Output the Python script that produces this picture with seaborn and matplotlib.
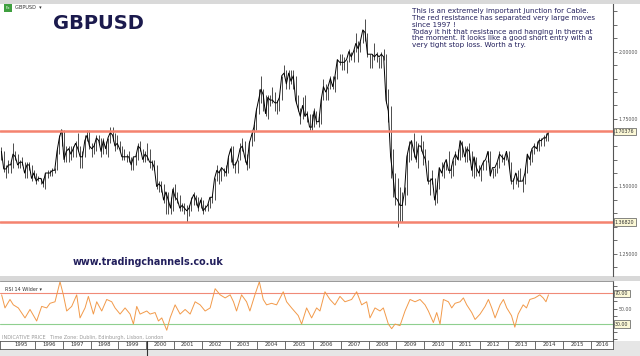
import numpy as np
import pandas as pd
import matplotlib
matplotlib.use("Agg")
import matplotlib.pyplot as plt
import seaborn as sns
from matplotlib.patches import Rectangle
from matplotlib.lines import Line2D
from matplotlib.ticker import FixedLocator, MultipleLocator, FuncFormatter

# ---------------- data (monthly, Oct 1994 .. Jun 2014) ----------------
start_year, start_month = 1994, 10
close = [
    1.63, 1.565, 1.565,
    1.58, 1.58, 1.62, 1.61, 1.58, 1.59, 1.59, 1.55, 1.58, 1.58, 1.53, 1.55,
    1.52, 1.53, 1.53, 1.51, 1.55, 1.55, 1.55, 1.56, 1.56, 1.63, 1.68, 1.71,
    1.60, 1.63, 1.64, 1.62, 1.64, 1.66, 1.64, 1.61, 1.61, 1.67, 1.69, 1.65,
    1.64, 1.65, 1.68, 1.67, 1.63, 1.67, 1.64, 1.68, 1.70, 1.69, 1.65, 1.66,
    1.64, 1.61, 1.61, 1.61, 1.61, 1.58, 1.61, 1.61, 1.65, 1.64, 1.60, 1.62,
    1.61, 1.59, 1.59, 1.57, 1.50, 1.51, 1.50, 1.45, 1.48, 1.45, 1.42, 1.49,
    1.46, 1.45, 1.42, 1.43, 1.42, 1.41, 1.42, 1.45, 1.47, 1.45, 1.42, 1.45,
    1.41, 1.42, 1.43, 1.46, 1.46, 1.53, 1.56, 1.55, 1.57, 1.56, 1.55, 1.61,
    1.64, 1.58, 1.58, 1.60, 1.64, 1.65, 1.61, 1.58, 1.66, 1.69, 1.72, 1.78,
    1.82, 1.86, 1.84, 1.77, 1.83, 1.82, 1.82, 1.81, 1.81, 1.83, 1.91, 1.92,
    1.88, 1.92, 1.89, 1.91, 1.82, 1.79, 1.76, 1.80, 1.76, 1.77, 1.72, 1.72,
    1.78, 1.74, 1.74, 1.82, 1.87, 1.85, 1.87, 1.90, 1.87, 1.91, 1.97, 1.96,
    1.96, 1.96, 1.97, 2.00, 1.98, 2.00, 2.03, 2.01, 2.04, 2.08, 2.07, 1.99,
    1.99, 1.99, 1.98, 1.99, 1.98, 1.99, 1.98, 1.82, 1.78, 1.61, 1.54, 1.46,
    1.45, 1.43, 1.43, 1.48, 1.61, 1.65, 1.67, 1.63, 1.60, 1.65, 1.65, 1.62,
    1.60, 1.52, 1.52, 1.53, 1.45, 1.49, 1.57, 1.55, 1.58, 1.60, 1.56, 1.56,
    1.60, 1.62, 1.60, 1.67, 1.65, 1.61, 1.64, 1.63, 1.56, 1.61, 1.57, 1.55,
    1.57, 1.59, 1.60, 1.63, 1.54, 1.57, 1.57, 1.59, 1.62, 1.61, 1.60, 1.63,
    1.59, 1.52, 1.52, 1.55, 1.52, 1.52, 1.52, 1.55, 1.62, 1.60, 1.64, 1.65,
    1.64, 1.67, 1.67, 1.68, 1.68, 1.70,
]
high = [
    1.645, 1.63, 1.58,
    1.60, 1.59, 1.66, 1.63, 1.62, 1.60, 1.61, 1.59, 1.59, 1.59, 1.58, 1.56,
    1.55, 1.54, 1.53, 1.53, 1.55, 1.56, 1.56, 1.57, 1.57, 1.64, 1.69, 1.71,
    1.71, 1.65, 1.65, 1.65, 1.65, 1.67, 1.70, 1.65, 1.63, 1.69, 1.71, 1.71,
    1.66, 1.66, 1.69, 1.69, 1.68, 1.68, 1.67, 1.68, 1.72, 1.72, 1.70, 1.69,
    1.67, 1.65, 1.64, 1.62, 1.63, 1.61, 1.61, 1.62, 1.66, 1.67, 1.64, 1.63,
    1.66, 1.64, 1.60, 1.60, 1.58, 1.52, 1.52, 1.51, 1.48, 1.48, 1.46, 1.50,
    1.51, 1.48, 1.47, 1.44, 1.44, 1.43, 1.43, 1.46, 1.48, 1.47, 1.46, 1.46,
    1.45, 1.43, 1.44, 1.46, 1.47, 1.53, 1.58, 1.56, 1.57, 1.57, 1.58, 1.61,
    1.65, 1.65, 1.59, 1.60, 1.66, 1.68, 1.67, 1.62, 1.67, 1.71, 1.73, 1.79,
    1.86, 1.91, 1.86, 1.84, 1.84, 1.84, 1.87, 1.85, 1.82, 1.84, 1.91, 1.95,
    1.93, 1.93, 1.93, 1.93, 1.91, 1.84, 1.79, 1.83, 1.84, 1.78, 1.77, 1.77,
    1.79, 1.78, 1.76, 1.83, 1.90, 1.88, 1.87, 1.91, 1.91, 1.91, 1.97, 1.99,
    1.99, 1.98, 1.97, 2.01, 2.00, 2.01, 2.07, 2.04, 2.04, 2.08, 2.12, 2.07,
    1.99, 1.99, 2.03, 2.00, 1.98, 2.00, 2.01, 1.99, 1.86, 1.80, 1.64, 1.55,
    1.53, 1.50, 1.48, 1.50, 1.62, 1.67, 1.67, 1.70, 1.67, 1.66, 1.69, 1.67,
    1.64, 1.60, 1.53, 1.56, 1.53, 1.51, 1.57, 1.59, 1.59, 1.60, 1.63, 1.58,
    1.60, 1.63, 1.64, 1.67, 1.67, 1.65, 1.65, 1.66, 1.63, 1.61, 1.61, 1.58,
    1.58, 1.60, 1.60, 1.63, 1.63, 1.57, 1.57, 1.59, 1.63, 1.62, 1.61, 1.63,
    1.63, 1.59, 1.53, 1.55, 1.56, 1.57, 1.53, 1.57, 1.62, 1.63, 1.64, 1.66,
    1.67, 1.68, 1.68, 1.69, 1.70, 1.705,
]
low = [
    1.60, 1.555, 1.53,
    1.55, 1.55, 1.57, 1.60, 1.57, 1.57, 1.58, 1.53, 1.53, 1.56, 1.52, 1.53,
    1.51, 1.52, 1.51, 1.50, 1.49, 1.53, 1.54, 1.54, 1.55, 1.56, 1.62, 1.65,
    1.59, 1.59, 1.59, 1.60, 1.61, 1.61, 1.63, 1.57, 1.57, 1.61, 1.67, 1.64,
    1.61, 1.62, 1.63, 1.66, 1.61, 1.62, 1.62, 1.61, 1.66, 1.67, 1.63, 1.64,
    1.63, 1.60, 1.60, 1.59, 1.59, 1.56, 1.56, 1.58, 1.60, 1.63, 1.59, 1.59,
    1.60, 1.57, 1.56, 1.56, 1.49, 1.48, 1.48, 1.44, 1.40, 1.40, 1.40, 1.41,
    1.45, 1.44, 1.41, 1.41, 1.40, 1.37, 1.39, 1.41, 1.43, 1.43, 1.41, 1.42,
    1.40, 1.41, 1.41, 1.42, 1.44, 1.45, 1.52, 1.51, 1.52, 1.54, 1.54, 1.55,
    1.59, 1.57, 1.55, 1.55, 1.60, 1.63, 1.59, 1.56, 1.57, 1.65, 1.67, 1.71,
    1.77, 1.81, 1.78, 1.76, 1.75, 1.80, 1.81, 1.78, 1.77, 1.78, 1.82, 1.91,
    1.86, 1.86, 1.88, 1.86, 1.81, 1.78, 1.73, 1.75, 1.76, 1.74, 1.71, 1.71,
    1.72, 1.73, 1.72, 1.73, 1.82, 1.82, 1.82, 1.86, 1.86, 1.85, 1.90, 1.95,
    1.93, 1.93, 1.92, 1.96, 1.97, 1.96, 2.00, 1.96, 2.00, 2.03, 2.04, 1.98,
    1.94, 1.94, 1.97, 1.96, 1.94, 1.94, 1.97, 1.81, 1.74, 1.53, 1.46, 1.43,
    1.35, 1.37, 1.37, 1.43, 1.47, 1.59, 1.60, 1.61, 1.59, 1.57, 1.63, 1.58,
    1.59, 1.51, 1.47, 1.51, 1.43, 1.44, 1.49, 1.54, 1.53, 1.56, 1.55, 1.53,
    1.54, 1.58, 1.60, 1.60, 1.61, 1.59, 1.59, 1.60, 1.54, 1.53, 1.54, 1.54,
    1.52, 1.56, 1.56, 1.59, 1.54, 1.53, 1.54, 1.55, 1.57, 1.59, 1.58, 1.60,
    1.57, 1.51, 1.49, 1.51, 1.50, 1.52, 1.48, 1.51, 1.55, 1.58, 1.59, 1.62,
    1.63, 1.63, 1.65, 1.65, 1.67, 1.67,
]

rsi_t = [
    1994.80, 1994.92, 1995.10, 1995.22, 1995.40, 1995.64, 1995.82, 1996.06, 1996.24, 1996.42,
    1996.54, 1996.72, 1996.90, 1997.02, 1997.14, 1997.32, 1997.50, 1997.62, 1997.80, 1997.92,
    1998.10, 1998.22, 1998.40, 1998.58, 1998.76, 1998.88, 1999.06, 1999.24, 1999.42, 1999.54,
    1999.66, 1999.78, 2000.02, 2000.14, 2000.32, 2000.44, 2000.56, 2000.74, 2000.86, 2001.04,
    2001.22, 2001.40, 2001.58, 2001.76, 2001.94, 2002.12, 2002.30, 2002.48, 2002.66, 2002.84,
    2003.02, 2003.14, 2003.25, 2003.43, 2003.61, 2003.73, 2003.91, 2004.07, 2004.21, 2004.33,
    2004.51, 2004.69, 2004.93, 2005.05, 2005.23, 2005.47, 2005.59, 2005.77, 2005.95, 2006.13,
    2006.25, 2006.43, 2006.61, 2006.79, 2006.97, 2007.15, 2007.39, 2007.57, 2007.75, 2007.93,
    2008.05, 2008.23, 2008.41, 2008.53, 2008.71, 2008.83, 2008.95, 2009.13, 2009.31, 2009.49,
    2009.67, 2009.85, 2010.03, 2010.15, 2010.33, 2010.45, 2010.57, 2010.69, 2010.87, 2010.99,
    2011.11, 2011.29, 2011.41, 2011.53, 2011.71, 2011.83, 2012.01, 2012.19, 2012.31, 2012.43,
    2012.55, 2012.73, 2012.85, 2012.97, 2013.14, 2013.26, 2013.38, 2013.56, 2013.68, 2013.80,
    2013.98, 2014.16, 2014.28, 2014.38, 2014.43, 2014.47,
]
rsi_v = [
    68, 51, 62, 55, 51, 38, 49, 34, 53, 51,
    57, 59, 85, 68, 47, 53, 68, 38, 51, 66,
    43, 59, 47, 62, 59, 51, 43, 51, 43, 30,
    53, 43, 47, 43, 45, 34, 38, 22, 38, 55,
    43, 49, 43, 59, 55, 47, 51, 76, 68, 64,
    68, 59, 47, 68, 59, 47, 68, 85, 62, 55,
    57, 55, 72, 59, 51, 41, 30, 51, 38, 51,
    47, 72, 62, 55, 66, 59, 62, 72, 55, 59,
    38, 51, 47, 51, 30, 24, 30, 28, 47, 62,
    59, 62, 55, 47, 32, 45, 30, 62, 59, 51,
    57, 59, 64, 55, 45, 36, 43, 53, 62, 51,
    38, 55, 62, 51, 41, 26, 43, 55, 51, 62,
    64, 68, 64, 59, 64, 68,
]

resistance = 1.70376
support = 1.36820
price_ticks = [1.25, 1.50, 1.75, 2.00]
rsi_levels = [30, 50, 70]
year_labels = list(range(1995, 2017))

note = ("This is an extremely important junction for Cable.\n"
        "The red resistance has separated very large moves\n"
        "since 1997 !\n"
        "Today it hit that resistance and hanging in there at\n"
        "the moment. It looks like a good short entry with a\n"
        "very tight stop loss. Worth a try.")

# ---------------- figure ----------------
sns.set_theme(style="white")
plt.rcParams["font.family"] = ["DejaVu Sans"]

W, H = 640, 356
fig = plt.figure(figsize=(6.4, 3.56), dpi=100, facecolor="#e6e6e6")


def fx(p):
    return p / W


def fy(p):
    return 1 - p / H


X0 = 1994.741
X1 = X0 + 613 / 27.8
NAVY = "#221f5c"
RED = "#f4836f"

# white right strip behind the price/RSI axis labels (drawn beneath the axes)
fig.patches.append(Rectangle((fx(613), fy(341)), 1 - fx(613), fy(4) - fy(341),
                             transform=fig.transFigure, fc="white", ec="none", zorder=-2))
# gray band between panels
fig.patches.append(Rectangle((0, fy(281)), 1, fy(276) - fy(281),
                             transform=fig.transFigure, fc="#d8d8d8", ec="none", zorder=-1))

n = len(close)
months = start_month - 1 + np.arange(n)
t = start_year + (months + 0.5) / 12.0
df = pd.DataFrame({"t": t, "close": close, "high": high, "low": low})
rsi_df = pd.DataFrame({"t": rsi_t, "rsi": rsi_v})

box = dict(boxstyle="square,pad=0.25", fc="#fbf8d6", ec="#555555", lw=0.5)
TICKFS = 3.4

# ---- price panel ----
ax = fig.add_axes([0, fy(276), fx(613), fy(4) - fy(276)])
ax.set_facecolor("white")
ax.vlines(df["t"], df["low"], df["high"], color="#303030", lw=0.6)
sns.lineplot(data=df, x="t", y="close", ax=ax, color="black", lw=0.7)
ax.axhline(resistance, color=RED, lw=1.8, zorder=3)
ax.axhline(support, color=RED, lw=1.8, zorder=3)
ax.set_xlim(X0, X1)
ax.set_ylim(1.75 - (276 - 119) / 270, 1.75 + (119 - 4) / 270)
ax.set_xlabel("")
ax.set_ylabel("")
ax.set_xticks([])
ax.yaxis.tick_right()
ax.yaxis.set_major_locator(FixedLocator(price_ticks))
ax.yaxis.set_minor_locator(MultipleLocator(0.05))
ax.yaxis.set_major_formatter(FuncFormatter(lambda v, p: f"{v:.5f}"))
ax.tick_params(axis="y", which="both", direction="out", length=3, width=0.6,
               colors="#555555", labelsize=TICKFS, pad=0.8)
for s in ["top", "left", "bottom"]:
    ax.spines[s].set_visible(False)
ax.spines["right"].set_color("#555555")
ax.spines["right"].set_linewidth(0.8)

for lvl in [resistance, support]:
    ax.text(1.003, lvl, f"{lvl:.5f}", transform=ax.get_yaxis_transform(),
            ha="left", va="center", fontsize=TICKFS, color="#333333", bbox=box,
            clip_on=False)

# ---- RSI panel ----
ar = fig.add_axes([0, fy(341), fx(613), fy(281) - fy(341)])
ar.set_facecolor("white")
ar.axhline(70, color="#f08a78", lw=0.8)
ar.axhline(30, color="#8fcf8f", lw=0.8)
sns.lineplot(data=rsi_df, x="t", y="rsi", ax=ar, color="#f29a4a", lw=0.7)
ar.set_xlim(X0, X1)
ar.set_ylim(8, 86)
ar.set_xlabel("")
ar.set_ylabel("")
ar.set_xticks([])
ar.yaxis.tick_right()
ar.yaxis.set_major_locator(FixedLocator([50]))
ar.yaxis.set_minor_locator(MultipleLocator(10))
ar.yaxis.set_major_formatter(FuncFormatter(lambda v, p: f"{v:.2f}"))
ar.tick_params(axis="y", which="both", direction="out", length=3, width=0.6,
               colors="#555555", labelsize=TICKFS, pad=0.8)
for s in ["left", "bottom"]:
    ar.spines[s].set_visible(False)
ar.spines["top"].set_color("#888888")
ar.spines["top"].set_linewidth(0.6)
ar.spines["right"].set_color("#555555")
ar.spines["right"].set_linewidth(0.8)
for lvl in [70, 30]:
    ar.text(1.003, lvl, f"{lvl:.2f}", transform=ar.get_yaxis_transform(),
            ha="left", va="center", fontsize=TICKFS, color="#333333", bbox=box,
            clip_on=False)

# ---- year axis row ----
ay = fig.add_axes([0, fy(349), fx(613), fy(341) - fy(349)])
ay.set_facecolor("white")
ay.set_xlim(X0, X1)
ay.set_ylim(0, 1)
ay.set_xticks([])
ay.set_yticks([])
ay.vlines(year_labels[1:], 0, 1, color="#555555", lw=0.6)
for yv in year_labels:
    lo = max(yv, X0)
    hi = min(yv + 1, X1)
    ay.text((lo + hi) / 2, 0.5, str(yv), ha="center", va="center",
            fontsize=3.8, color="#333333")
for s in ay.spines.values():
    s.set_color("#555555")
    s.set_linewidth(0.6)

# ---- texts ----
fig.text(fx(53), fy(29), "GBPUSD", fontsize=14, fontweight="bold", color="#1b1a4d",
         va="baseline", ha="left")
fig.text(fx(412), fy(8.5), note, fontsize=5.1, color=NAVY, va="top", ha="left",
         linespacing=1.14)
fig.text(fx(73), fy(265), "www.tradingchannels.co.uk", fontsize=6.9, fontweight="bold",
         color=NAVY, va="baseline", ha="left")
fig.text(fx(5), fy(289.5), "RSI 14 Wilder \u25BE", fontsize=3.5, color="#333333",
         va="center", ha="left")
fig.text(fx(2), fy(338), "INDICATIVE PRICE   Time Zone: Dublin, Edinburgh, Lisbon, London",
         fontsize=3.5, color="#9a9a9a", va="center", ha="left")

# header strip with small icon
fig.patches.append(Rectangle((0, fy(4)), 1, 1 - fy(4), transform=fig.transFigure,
                             fc="#d9d9d9", ec="none", zorder=5))
fig.patches.append(Rectangle((fx(4), fy(11.5)), fx(8), fy(4) - fy(11.5),
                             transform=fig.transFigure, fc="#3f9f3f", ec="none", zorder=6))
fig.text(fx(8), fy(7.8), "Fx", fontsize=2.8, color="white", ha="center", va="center", zorder=7)
fig.text(fx(15), fy(7.8), "GBPUSD  \u25BE", fontsize=3.6, color="#333333",
         ha="left", va="center", zorder=7)

# cursor line in the date row
fig.lines.append(Line2D([fx(147), fx(147)], [0, fy(341)], transform=fig.transFigure,
                        color="#333333", lw=0.8))

fig.savefig("out.png", dpi=100, facecolor=fig.get_facecolor())
